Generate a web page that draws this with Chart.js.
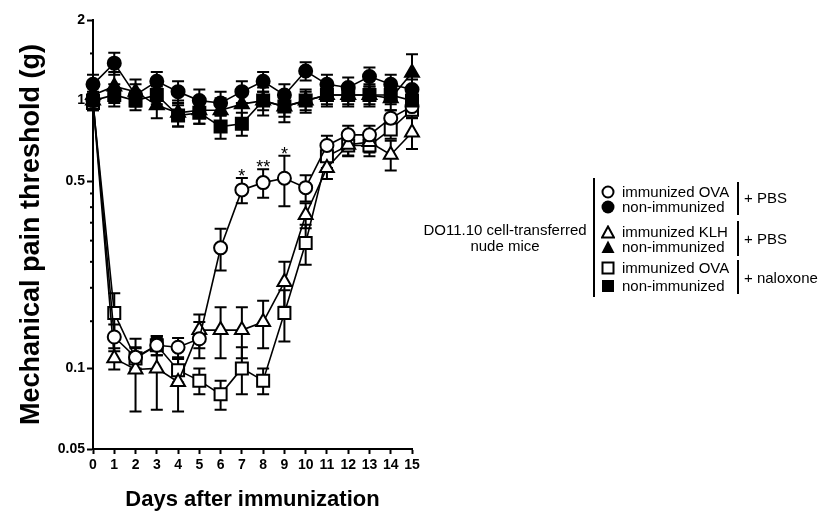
<!DOCTYPE html>
<html lang="en">
<head>
    <meta charset="UTF-8">
    <title>Mechanical pain threshold</title>
    <script src="https://cdn.jsdelivr.net/npm/chart.js"></script>
    <style>
        body { margin: 0; background: #fff; font-family: "Liberation Sans", Arial, sans-serif; }
        .wrap { position: relative; width: 818px; height: 518px; }
        .wrap canvas { position: absolute; left: 0; top: 0; }
        .lg { position: absolute; color: #000; font-size: 15px; line-height: 16px; white-space: nowrap; }
        .bar { position: absolute; background: #000; width: 2px; }
        .mk { position: absolute; }
    </style>
</head>
<body>

<div class="wrap">
    <canvas id="painChart" width="818" height="518"></canvas>

    <!-- legend -->
    <div class="lg" style="left:416px; top:222px; width:178px; text-align:center;">DO11.10 cell-transferred<br>nude mice</div>
    <div class="bar" style="left:593px; top:178px; height:119px;"></div>

    <svg class="mk" style="left:601px; top:185px;" width="14" height="14"><circle cx="7" cy="7" r="5.5" fill="#fff" stroke="#000" stroke-width="2"/></svg>
    <svg class="mk" style="left:601px; top:200px;" width="14" height="14"><circle cx="7" cy="7" r="6.5" fill="#000"/></svg>
    <svg class="mk" style="left:601px; top:225px;" width="14" height="14"><polygon points="7,1.5 13,12.5 1,12.5" fill="#fff" stroke="#000" stroke-width="2"/></svg>
    <svg class="mk" style="left:601px; top:240px;" width="14" height="14"><polygon points="7,0.5 13.5,13 0.5,13" fill="#000"/></svg>
    <svg class="mk" style="left:601px; top:261px;" width="14" height="14"><rect x="1.5" y="1.5" width="11" height="11" fill="#fff" stroke="#000" stroke-width="2"/></svg>
    <svg class="mk" style="left:601px; top:279px;" width="14" height="14"><rect x="1" y="1" width="12" height="12" fill="#000"/></svg>

    <div class="lg" style="left:622px; top:184px;">immunized OVA</div>
    <div class="lg" style="left:622px; top:199px;">non-immunized</div>
    <div class="lg" style="left:622px; top:224px;">immunized KLH</div>
    <div class="lg" style="left:622px; top:239px;">non-immunized</div>
    <div class="lg" style="left:622px; top:260px;">immunized OVA</div>
    <div class="lg" style="left:622px; top:278px;">non-immunized</div>

    <div class="bar" style="left:737px; top:182px; height:33px;"></div>
    <div class="bar" style="left:737px; top:221px; height:35px;"></div>
    <div class="bar" style="left:737px; top:260px; height:34px;"></div>

    <div class="lg" style="left:744px; top:190px;">+ PBS</div>
    <div class="lg" style="left:744px; top:231px;">+ PBS</div>
    <div class="lg" style="left:744px; top:270px;">+ naloxone</div>
</div>

<script>
// days after immunization
const days = [0, 1, 2, 3, 4, 5, 6, 7, 8, 9, 10, 11, 12, 13, 14, 15];

// immunized OVA + PBS (open circle)
const ovaPbs    = [1.0, 0.131, 0.11, 0.122, 0.12, 0.129, 0.282, 0.464, 0.494, 0.513, 0.473, 0.68, 0.745, 0.745, 0.86, 0.95];
const ovaPbsSem = [0.06, 0.015, 0.01, 0.01, 0.01, 0.02, 0.05, 0.05, 0.06, 0.11, 0.053, 0.06, 0.06, 0.06, 0.06, 0.06];
const ovaPbsSig = ['', '', '', '', '', '', '', '*', '**', '*', '', '', '', '', '', ''];

// non-immunized + PBS (filled circle)
const nonPbs    = [1.15, 1.38, 1.05, 1.18, 1.08, 1.0, 0.98, 1.08, 1.18, 1.05, 1.29, 1.15, 1.12, 1.23, 1.15, 1.1];
const nonPbsSem = [0.1, 0.13, 0.1, 0.1, 0.1, 0.1, 0.1, 0.1, 0.1, 0.1, 0.1, 0.1, 0.1, 0.1, 0.1, 0.1];

// immunized KLH + PBS (open triangle)
const klhPbs    = [1.0, 0.109, 0.099, 0.1, 0.089, 0.139, 0.139, 0.139, 0.149, 0.21, 0.374, 0.56, 0.684, 0.7, 0.628, 0.76];
const klhPbsSem = [0.06, 0.01, 0.03, 0.03, 0.02, 0.02, 0.03, 0.03, 0.03, 0.04, 0.04, 0.05, 0.06, 0.06, 0.08, 0.1];

// non-immunized (KLH group) + PBS (filled triangle)
const nonKlh    = [1.05, 1.13, 1.08, 0.96, 0.9, 0.92, 0.92, 0.97, 1.0, 0.95, 1.0, 1.05, 1.05, 1.05, 1.02, 1.27];
const nonKlhSem = [0.12, 0.15, 0.12, 0.1, 0.1, 0.1, 0.1, 0.12, 0.12, 0.12, 0.1, 0.1, 0.1, 0.1, 0.1, 0.22];

// immunized OVA + naloxone (open square)
const ovaNal    = [0.98, 0.161, 0.109, 0.122, 0.0985, 0.09, 0.08, 0.1, 0.09, 0.161, 0.294, 0.62, 0.68, 0.68, 0.78, 0.925];
const ovaNalSem = [0.06, 0.03, 0.01, 0.01, 0.01, 0.01, 0.01, 0.02, 0.01, 0.035, 0.05, 0.06, 0.06, 0.06, 0.06, 0.06];

// non-immunized + naloxone (filled square)
const nonNal    = [1.0, 1.05, 1.0, 1.05, 0.88, 0.9, 0.8, 0.82, 1.0, 0.95, 1.0, 1.05, 1.05, 1.05, 1.05, 1.0];
const nonNalSem = [0.08, 0.1, 0.08, 0.08, 0.08, 0.08, 0.08, 0.08, 0.08, 0.08, 0.08, 0.08, 0.08, 0.08, 0.08, 0.08];

// y axis ticks (log scale), only some carry a label
const yTicks  = [0.05, 0.1, 0.15, 0.2, 0.25, 0.3, 0.35, 0.4, 0.45, 0.5, 1, 1.5, 2];
const yLabels = [0.05, 0.1, 0.5, 1, 2];

const BLACK = '#000';
const FONT = '"Liberation Sans", Arial, sans-serif';
const tickFont = { family: FONT, size: 14, weight: 'bold' };

function series(values, sem, style, filled, radius, sig) {
    return {
        data: days.map((d, i) => ({ x: d, y: values[i] })),
        sem: sem,
        sig: sig || null,
        clip: false,
        borderColor: BLACK,
        borderWidth: 1.6,
        pointStyle: style,
        pointRadius: radius,
        pointBorderWidth: 2,
        pointBorderColor: BLACK,
        pointBackgroundColor: filled ? BLACK : '#fff',
        tension: 0
    };
}

// draws the SEM bars under the markers
const errorBars = {
    id: 'errorBars',
    beforeDatasetsDraw(chart) {
        const ctx = chart.ctx;
        const y = chart.scales.y;
        ctx.save();
        ctx.strokeStyle = BLACK;
        ctx.lineWidth = 2;
        chart.data.datasets.forEach((ds, di) => {
            const meta = chart.getDatasetMeta(di);
            meta.data.forEach((pt, i) => {
                const v = ds.data[i].y, s = ds.sem[i];
                const top = y.getPixelForValue(v + s);
                const bot = y.getPixelForValue(Math.max(v - s, 0.051));
                const px = pt.x;
                ctx.beginPath();
                ctx.moveTo(px, top); ctx.lineTo(px, bot);
                ctx.moveTo(px - 6, top); ctx.lineTo(px + 6, top);
                ctx.moveTo(px - 6, bot); ctx.lineTo(px + 6, bot);
                ctx.stroke();
            });
        });
        ctx.restore();
    },
    afterDatasetsDraw(chart) {
        // significance stars above the upper bar
        const ctx = chart.ctx;
        const y = chart.scales.y;
        ctx.save();
        ctx.fillStyle = BLACK;
        ctx.font = '18px ' + FONT;
        ctx.textAlign = 'center';
        ctx.textBaseline = 'alphabetic';
        chart.data.datasets.forEach((ds, di) => {
            if (!ds.sig) return;
            const meta = chart.getDatasetMeta(di);
            meta.data.forEach((pt, i) => {
                if (!ds.sig[i]) return;
                const top = y.getPixelForValue(ds.data[i].y + ds.sem[i]);
                ctx.fillText(ds.sig[i], pt.x, top + 4);
            });
        });
        // short minor ticks on the y axis
        ctx.strokeStyle = BLACK;
        ctx.lineWidth = 2;
        yTicks.forEach(v => {
            if (yLabels.includes(v)) return;
            const py = y.getPixelForValue(v);
            ctx.beginPath();
            ctx.moveTo(chart.chartArea.left - 3, py);
            ctx.lineTo(chart.chartArea.left, py);
            ctx.stroke();
        });
        ctx.restore();
    }
};

// dataset 0 is drawn last, so the filled groups sit on top
new Chart(document.getElementById('painChart'), {
    type: 'line',
    data: {
        datasets: [
            series(nonPbs, nonPbsSem, 'circle', true, 6.5),
            series(nonNal, nonNalSem, 'rect', true, 8.5),
            series(nonKlh, nonKlhSem, 'triangle', true, 8),
            series(ovaPbs, ovaPbsSem, 'circle', false, 6.5, ovaPbsSig),
            series(klhPbs, klhPbsSem, 'triangle', false, 8),
            series(ovaNal, ovaNalSem, 'rect', false, 8.5)
        ]
    },
    options: {
        responsive: false,
        animation: false,
        events: [],
        layout: { padding: { top: 20, right: 406, left: 0, bottom: 0 } },
        plugins: { legend: { display: false }, tooltip: { enabled: false } },
        scales: {
            x: {
                type: 'linear',
                min: 0,
                max: 15,
                afterFit(scale) { scale.height = 69; },
                border: { color: BLACK, width: 2 },
                grid: { drawOnChartArea: false, drawTicks: true, tickLength: 5, tickColor: BLACK, tickWidth: 2 },
                ticks: { stepSize: 1, color: BLACK, font: tickFont, padding: 3, maxRotation: 0 },
                title: {
                    display: true,
                    text: 'Days after immunization',
                    color: BLACK,
                    font: { family: FONT, size: 22, weight: 'bold' },
                    padding: { top: 0, bottom: 5 }
                }
            },
            y: {
                type: 'logarithmic',
                min: 0.05,
                max: 2,
                afterFit(scale) { scale.width = 93; },
                afterBuildTicks(scale) { scale.ticks = yTicks.map(v => ({ value: v })); },
                border: { color: BLACK, width: 2 },
                grid: {
                    drawOnChartArea: false,
                    drawTicks: true,
                    tickLength: 6,
                    tickWidth: 2,
                    tickColor: c => (c.tick && yLabels.includes(c.tick.value)) ? BLACK : 'rgba(0,0,0,0)'
                },
                ticks: {
                    autoSkip: false,
                    color: BLACK,
                    font: tickFont,
                    padding: 2,
                    callback: v => yLabels.includes(v) ? String(v) : ''
                },
                title: {
                    display: true,
                    text: 'Mechanical pain threshold (g)',
                    color: BLACK,
                    font: { family: FONT, size: 27, weight: 'bold' },
                    padding: { top: 15, bottom: 0 }
                }
            }
        }
    },
    plugins: [errorBars]
});
</script>

</body>
</html>
